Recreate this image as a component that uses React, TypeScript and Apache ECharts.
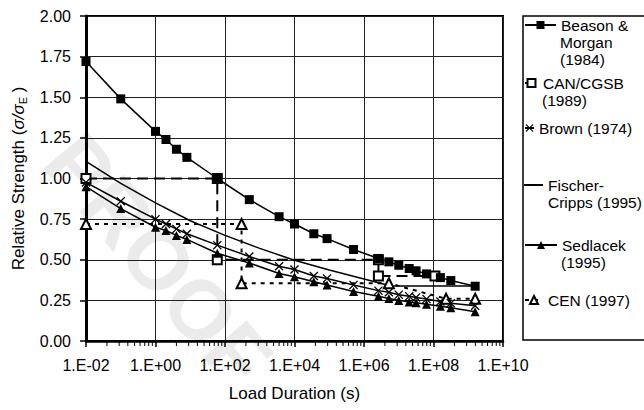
import { useEffect, useRef } from 'react';
import * as echarts from 'echarts';

// ---- data ----
const DURATIONS = [0.01, 0.1, 1, 2, 4, 8, 60, 500, 3600, 1e4, 36000, 86400, 5e5, 2.6e6, 5.2e6, 1e7, 2e7, 3.15e7, 6.3e7, 1.58e8, 3.15e8, 1.58e9];
const BEASON = [1.72, 1.49, 1.29, 1.24, 1.18, 1.13, 1.0, 0.87, 0.765, 0.72, 0.66, 0.63, 0.563, 0.508, 0.487, 0.466, 0.446, 0.432, 0.413, 0.39, 0.372, 0.337];
const BROWN = [0.976, 0.86, 0.75, 0.72, 0.69, 0.66, 0.59, 0.52, 0.46, 0.44, 0.4, 0.385, 0.345, 0.31, 0.3, 0.285, 0.275, 0.268, 0.258, 0.243, 0.233, 0.217];
const SEDLACEK = [0.95, 0.815, 0.7, 0.68, 0.65, 0.625, 0.54, 0.48, 0.415, 0.395, 0.365, 0.345, 0.305, 0.275, 0.262, 0.25, 0.24, 0.235, 0.226, 0.214, 0.205, 0.18];
const FISCHER_T = [0.01, 0.1, 1, 10, 100, 1e3, 1e4, 1e5, 1e6, 6e6, 1.58e9];
const FISCHER = [1.105, 0.97, 0.85, 0.74, 0.65, 0.57, 0.497, 0.437, 0.382, 0.338, 0.338];
const CAN_T = [0.01, 60, 60, 2.6e6, 2.6e6, 1.1e8];
const CAN = [1.0, 1.0, 0.5, 0.5, 0.4, 0.4];
const CEN_T = [0.01, 300, 300, 5.2e6, 2.3e8, 1.58e9];
const CEN = [0.72, 0.72, 0.355, 0.355, 0.26, 0.26];

const NAME_BEASON = 'Beason &\nMorgan\n(1984)';
const NAME_CAN = 'CAN/CGSB\n(1989)';
const NAME_BROWN = 'Brown (1974)';
const NAME_FISCHER = 'Fischer-\nCripps (1995)';
const NAME_SEDLACEK = 'Sedlacek\n(1995)';
const NAME_CEN = 'CEN (1997)';

const X_TITLE = 'Load Duration (s)';
const MINOR_TICK_MULTIPLIERS = [4, 9, 16, 25, 36, 49, 64, 81];

const FONT = '"Liberation Sans", Arial, Helvetica, sans-serif';
const X_SYMBOL = 'path://M1,0L5,4L9,0L10,1L6,5L10,9L9,10L5,6L1,10L0,9L4,5L0,1Z';

const pair = (xs: number[], ys: number[]) => xs.map((x, i) => [x, ys[i]]);

function fmtX(v: number) {
  const e = Math.round(Math.log10(v));
  return '1.E' + (e < 0 ? '-' : '+') + String(Math.abs(e)).padStart(2, '0');
}

export default function App() {
  const ref = useRef<HTMLDivElement>(null);
  useEffect(() => {
    if (!ref.current) return;
    const chart = echarts.init(ref.current, undefined, { renderer: 'svg' });

    const minorTicks: number[][] = [];
    for (let k = -1; k <= 4; k++) {
      const b = Math.pow(100, k);
      MINOR_TICK_MULTIPLIERS.forEach((m) => minorTicks.push([b * m, 0]));
    }

    const L = 17;
    const LEG_LEFT = 524;
    const LEG_FONT = 15.5;
    const legends = [
      { name: NAME_BEASON, y0: 25, w: 31, h: 10, dx: 0 },
      { name: NAME_CAN, y0: 83, w: 13, h: 10, dx: 0 },
      { name: NAME_BROWN, y0: 128, w: 9, h: 10, dx: 0 },
      { name: NAME_FISCHER, y0: 185, w: 19, h: 2, icon: 'rect', dx: 0 },
      { name: NAME_SEDLACEK, y0: 245, w: 32, h: 10, dx: 0 },
      { name: NAME_CEN, y0: 300, w: 18, h: 10, dx: 0 },
    ];

    const extraLines: any[] = [];
    legends.forEach((l) => {
      const parts = l.name.split('\n');
      parts.slice(1).forEach((t, i) => {
        extraLines.push({
          type: 'text',
          x: LEG_LEFT + l.w + 5 + l.dx,
          y: l.y0 + (i + 1) * L,
          silent: true,
          style: {
            text: t,
            font: `${LEG_FONT}px ${FONT}`,
            fill: '#000',
            align: 'left',
            verticalAlign: 'middle',
          },
        });
      });
    });

    const base = {
      type: 'line' as const,
      silent: true,
      emphasis: { disabled: true },
      itemStyle: { color: '#000' },
    };

    chart.setOption({
      animation: false,
      backgroundColor: '#fff',
      grid: { left: 86, right: 141, top: 16, bottom: 69, show: true, borderColor: '#000', borderWidth: 2 },
      xAxis: {
        type: 'log',
        logBase: 100,
        min: 0.01,
        max: 1e10,
        splitNumber: 6,
        name: X_TITLE,
        nameLocation: 'middle',
        nameGap: 44,
        nameTextStyle: { fontFamily: FONT, fontSize: 17, color: '#000' },
        axisLine: { lineStyle: { color: '#000', width: 2.5 } },
        axisTick: { show: true, length: 6, lineStyle: { color: '#000', width: 1.5 } },
        axisLabel: { formatter: fmtX, fontFamily: FONT, fontSize: 16, color: '#000', margin: 16 },
        splitLine: { show: true, lineStyle: { color: '#222', width: 1 } },
      },
      yAxis: {
        type: 'value',
        min: 0,
        max: 2,
        interval: 0.25,
        name: '{a|Relative Strength (}{b|σ/σ}{c|E}{a| )}',
        nameLocation: 'middle',
        nameGap: 54,
        nameTextStyle: {
          fontFamily: FONT,
          fontSize: 17,
          color: '#000',
          rich: {
            a: { fontFamily: FONT, fontSize: 17, color: '#000' },
            b: { fontFamily: FONT, fontSize: 17, fontStyle: 'italic', color: '#000' },
            c: { fontFamily: FONT, fontSize: 11, color: '#000', padding: [9, 0, 0, 0] },
          },
        },
        axisLine: { show: true, lineStyle: { color: '#000', width: 3 } },
        axisTick: { show: true, length: 6, lineStyle: { color: '#000', width: 1.5 } },
        axisLabel: { formatter: (v: number) => v.toFixed(2), fontFamily: FONT, fontSize: 16, color: '#000', margin: 15 },
        splitLine: { show: true, lineStyle: { color: '#222', width: 1 } },
      },
      legend: legends.map((l) => ({
        data: [l.icon ? { name: l.name, icon: l.icon } : l.name],
        formatter: (n: string) => n.split('\n')[0],
        left: LEG_LEFT,
        top: l.y0 - L / 2,
        orient: 'vertical',
        padding: 0,
        itemWidth: l.w,
        itemHeight: l.h,
        selectedMode: false,
        textStyle: { fontFamily: FONT, fontSize: LEG_FONT, color: '#000', lineHeight: L },
      })),
      graphic: {
        elements: [
          {
            type: 'text',
            x: 158,
            y: 260,
            rotation: -0.87,
            z: -10,
            silent: true,
            style: {
              text: 'PROOF',
              font: 'bold 84px "Liberation Sans", Arial, sans-serif',
              fill: '#ebebeb',
              align: 'center',
              verticalAlign: 'middle',
            },
          },
          {
            type: 'rect',
            shape: { x: 523, y: 16, width: 140, height: 324 },
            style: { fill: 'none', stroke: '#000', lineWidth: 1.5 },
            silent: true,
          },
          ...extraLines,
        ],
      },
      series: [
        {
          type: 'custom',
          silent: true,
          clip: false,
          z: 5,
          data: minorTicks,
          encode: { x: 0, y: 1 },
          renderItem: (_p: any, api: any) => {
            const p = api.coord([api.value(0), 0]);
            return {
              type: 'line',
              shape: { x1: p[0], y1: p[1] + 1, x2: p[0], y2: p[1] + 5 },
              style: { stroke: '#000', lineWidth: 1 },
            };
          },
        },
        {
          ...base,
          name: NAME_CAN,
          data: pair(CAN_T, CAN),
          symbol: 'emptyRect',
          symbolSize: 9,
          lineStyle: { color: '#000', width: 2, type: [11, 6] },
          itemStyle: { color: '#000', borderWidth: 1.2 },
        },
        {
          ...base,
          name: NAME_CEN,
          data: pair(CEN_T, CEN),
          symbol: 'emptyTriangle',
          symbolSize: 10,
          lineStyle: { color: '#000', width: 2, type: [4, 5] },
          itemStyle: { color: '#000', borderWidth: 1.2 },
        },
        {
          ...base,
          name: NAME_FISCHER,
          data: pair(FISCHER_T, FISCHER),
          symbol: 'none',
          lineStyle: { color: '#000', width: 1.5 },
        },
        {
          ...base,
          name: NAME_SEDLACEK,
          data: pair(DURATIONS, SEDLACEK),
          symbol: 'triangle',
          symbolSize: 9,
          lineStyle: { color: '#000', width: 1.5 },
        },
        {
          ...base,
          name: NAME_BROWN,
          data: pair(DURATIONS, BROWN),
          symbol: X_SYMBOL,
          symbolSize: 9,
          lineStyle: { color: '#000', width: 1.5 },
        },
        {
          ...base,
          name: NAME_BEASON,
          data: pair(DURATIONS, BEASON),
          symbol: 'rect',
          symbolSize: 9,
          lineStyle: { color: '#000', width: 1.5 },
        },
      ],
    });
    return () => chart.dispose();
  }, []);
  return (
    <div
      ref={ref}
      style={{ position: 'fixed', left: 0, top: 0, width: 644, height: 410, background: '#fff' }}
    />
  );
}
